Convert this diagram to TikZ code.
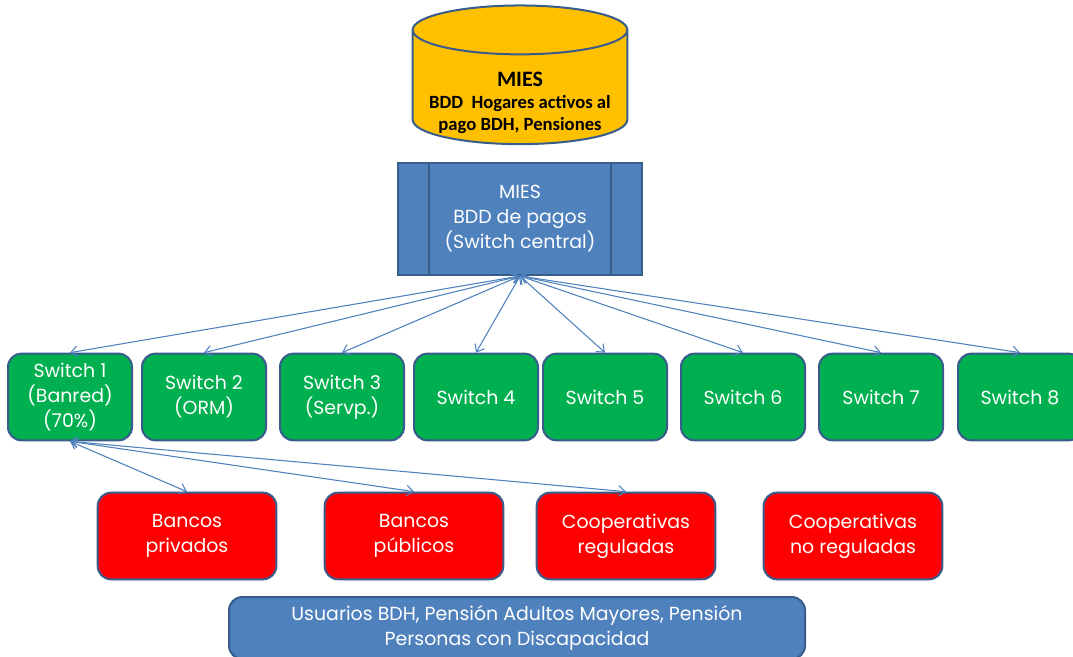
\documentclass[tikz,border=0pt]{standalone}
\usepackage{fontspec}
\setmainfont{Poppins}
\newfontfamily\calfont{Carlito}
\usetikzlibrary{arrows.meta,shapes.geometric}
\definecolor{mblue}{HTML}{4F81BD}
\definecolor{mborder}{HTML}{385D8A}
\definecolor{mgreen}{HTML}{00B050}
\definecolor{mred}{HTML}{FF0000}
\definecolor{myellow}{HTML}{FFC000}
\tikzstyle{boxtext} = [text=white, align=center, font=\fontsize{14.2}{18.75}\selectfont]
\tikzstyle{switch} = [boxtext, draw=mborder, fill=mgreen, line width=1.5pt,
    rounded corners=10pt, minimum width=93pt, minimum height=65pt]
\tikzstyle{entity} = [boxtext, draw=mborder, fill=mred, line width=1.5pt,
    rounded corners=10pt, minimum width=134pt, minimum height=65pt]
\tikzstyle{bluebox} = [boxtext, draw=mborder, fill=mblue, line width=1.5pt]
\tikzstyle{link} = [<->, draw=mblue, line width=0.8pt]

\begin{document}
\begin{tikzpicture}[x=0.75pt,y=-0.75pt,>={Straight Barb[length=5pt,width=8pt]}]
    \useasboundingbox (0,0) rectangle (1073,656);
    % base de datos
    \node [cylinder, shape border rotate=90, draw=mborder, fill=myellow, line width=1.5pt,
        minimum width=161pt, minimum height=104pt, aspect=5.5] (mies) at (520,91) {};
    \node [align=center, font=\calfont\bfseries\fontsize{14}{16.5}\selectfont] (miestext) at (520,103)
        {{\fontsize{16.5}{18}\selectfont MIES}\\BDD\ \ Hogares activos al\\pago BDH, Pensiones};
    % switch central
    \node [bluebox, minimum width=183pt, minimum height=84pt] (central) at (520,219)
        {MIES\\BDD de pagos\\(Switch central)};
    \draw [mborder, line width=1.5pt] ([xshift=24pt]central.north west) -- ([xshift=24pt]central.south west);
    \draw [mborder, line width=1.5pt] ([xshift=-24pt]central.north east) -- ([xshift=-24pt]central.south east);
    % switches
    \node [switch] (sw1) at (70,397) {Switch 1\\(Banred)\\(70\%)};
    \node [switch] (sw2) at (204,397) {Switch 2\\(ORM)};
    \node [switch] (sw3) at (342,397) {Switch 3\\(Servp.)};
    \node [switch] (sw4) at (476,397) {Switch 4};
    \node [switch] (sw5) at (605,397) {Switch 5};
    \node [switch] (sw6) at (743,397) {Switch 6};
    \node [switch] (sw7) at (881,397) {Switch 7};
    \node [switch] (sw8) at (1020,397) {Switch 8};
    % entidades
    \node [entity] (privados) at (187,536) {Bancos\\privados};
    \node [entity] (publicos) at (414,536) {Bancos\\públicos};
    \node [entity] (coopreg) at (626,536) {Cooperativas\\reguladas};
    \node [entity] (coopnoreg) at (853,536) {Cooperativas\\no reguladas};
    \node [bluebox, rounded corners=10pt, minimum width=432pt, minimum height=46.5pt] (usuarios) at (517,628)
        {Usuarios BDH, Pensión Adultos Mayores, Pensión\\Personas con Discapacidad};
    % conexiones
    \foreach \s in {sw1,sw2,sw3,sw4,sw5,sw6,sw7,sw8}
        \draw [link] (central.south) -- (\s.north);
    \foreach \e in {privados,publicos,coopreg}
        \draw [link] (sw1.south) -- (\e.north);
\end{tikzpicture}
\end{document}
